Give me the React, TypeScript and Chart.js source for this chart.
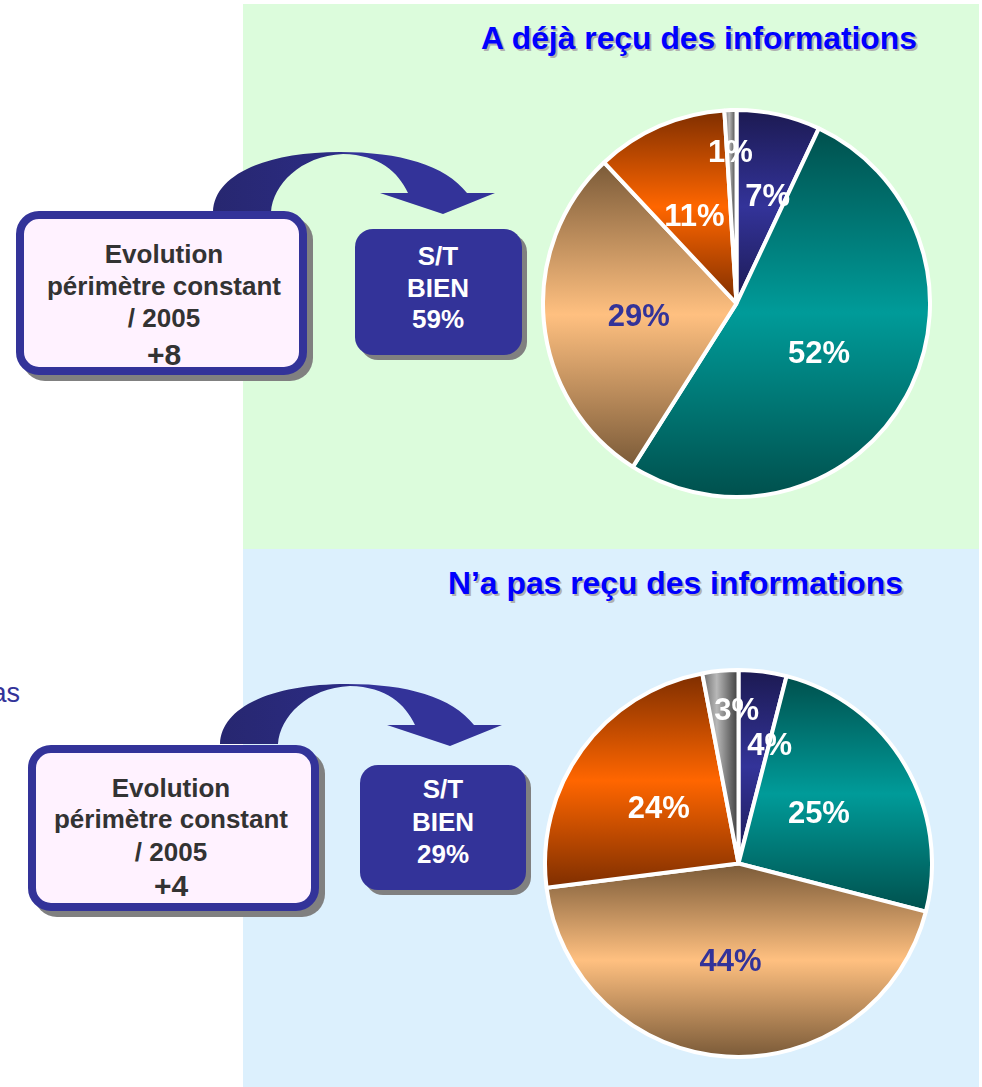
import React, { useEffect, useRef } from 'react';
import { Chart, registerables } from 'chart.js';

Chart.register(...registerables);

// ---------- data ----------
const categories = ['Très bien', 'Assez bien', 'Assez mal', 'Très mal', 'NSP'];
const recuValues = [7, 52, 29, 11, 1];
const pasRecuValues = [4, 25, 44, 24, 3];
const recuTitle = 'A déjà reçu des informations';
const pasRecuTitle = 'N’a pas reçu des informations';
const evolutionLines = ['Evolution', 'périmètre constant', '/ 2005'];
const recuEvolution = '+8';
const pasRecuEvolution = '+4';
const stLines = ['S/T', 'BIEN'];
const recuST = '59%';
const pasRecuST = '29%';
const cutText = 'as';

// ---------- styles ----------
const FONT = '"Liberation Sans", Arial, Helvetica, sans-serif';
const sliceEdge = ['#1c1a52', '#00504d', '#7a5a38', '#7e2e00', '#3c3c3c'];
const sliceMid = ['#333399', '#009b99', '#ffc080', '#ff6600', '#b8b8b8'];
const sliceDir = ['v', 'v', 'v', 'v', 'h'];
const labelColors = ['#ffffff', '#ffffff', '#333399', '#ffffff', '#ffffff'];
// [fraction of radius, angle offset in degrees]
const recuLabelPos = [[0.575, 3.6], [0.5, 2.6], [0.51, -2.2], [0.5, -2.4], [0.78, -0.5]];
const pasRecuLabelPos = [[0.63, 7.6], [0.49, -1.4], [0.51, 1], [0.5, -1.5], [0.79, 4.7]];

const layouts = [
  {
    key: 'recu',
    values: recuValues,
    labelPos: recuLabelPos,
    title: recuTitle,
    evo: recuEvolution,
    st: recuST,
    panel: { x: 243, y: 4, w: 736, h: 545, fill: '#dcfcdc' },
    titlePos: { x: 699, y: 49, len: 436 },
    pie: { left: 541, top: 108, size: 391 },
    arrow: { dx: 0, dy: 0 },
    pink: { x: 16, y: 211, w: 291, h: 164, tx: 164, base: [263, 295, 327, 365] },
    navy: { x: 355, y: 229, w: 167, h: 126, tx: 438, base: [265, 297, 328] },
  },
  {
    key: 'pasrecu',
    values: pasRecuValues,
    labelPos: pasRecuLabelPos,
    title: pasRecuTitle,
    evo: pasRecuEvolution,
    st: pasRecuST,
    panel: { x: 243, y: 549, w: 736, h: 538, fill: '#dcf0fd' },
    titlePos: { x: 675.5, y: 594, len: 455 },
    pie: { left: 543, top: 668, size: 391 },
    arrow: { dx: 7, dy: 532 },
    pink: { x: 28, y: 745, w: 291, h: 166, tx: 171, base: [797, 828, 861, 896] },
    navy: { x: 360, y: 765, w: 166, h: 125, tx: 443, base: [798, 831, 863] },
  },
];

function sectorBox(x: number, y: number, r: number, a0: number, a1: number) {
  const pts: number[][] = [
    [x, y],
    [x + r * Math.cos(a0), y + r * Math.sin(a0)],
    [x + r * Math.cos(a1), y + r * Math.sin(a1)],
  ];
  for (let k = -8; k <= 8; k++) {
    const a = (k * Math.PI) / 2;
    if (a > a0 && a < a1) pts.push([x + r * Math.cos(a), y + r * Math.sin(a)]);
  }
  let minX = Infinity, maxX = -Infinity, minY = Infinity, maxY = -Infinity;
  pts.forEach(([px, py]) => {
    minX = Math.min(minX, px); maxX = Math.max(maxX, px);
    minY = Math.min(minY, py); maxY = Math.max(maxY, py);
  });
  return { minX, maxX, minY, maxY };
}

const gradientPlugin = {
  id: 'sliceGradients',
  beforeDatasetsDraw(chart: any) {
    const ctx = chart.ctx;
    const meta = chart.getDatasetMeta(0);
    meta.data.forEach((arc: any, i: number) => {
      const p = arc.getProps(['x', 'y', 'startAngle', 'endAngle', 'outerRadius'], true);
      const b = sectorBox(p.x, p.y, p.outerRadius, p.startAngle, p.endAngle);
      let g;
      if (sliceDir[i] === 'h') {
        g = ctx.createLinearGradient(b.minX, 0, b.maxX, 0);
        g.addColorStop(0, '#6a6a6a');
        g.addColorStop(0.4, sliceMid[i]);
        g.addColorStop(1, sliceEdge[i]);
      } else {
        g = ctx.createLinearGradient(0, b.minY, 0, Math.max(b.maxY, b.minY + 1));
        g.addColorStop(0, sliceEdge[i]);
        g.addColorStop(0.5, sliceMid[i]);
        g.addColorStop(1, sliceEdge[i]);
      }
      arc.options = Object.assign({}, arc.options, { backgroundColor: g });
    });
  },
};

const labelPlugin = {
  id: 'pctLabels',
  afterDatasetsDraw(chart: any) {
    const ctx = chart.ctx;
    const meta = chart.getDatasetMeta(0);
    const vals = chart.data.datasets[0].data;
    const pos = chart.options.plugins.pctLabels.pos;
    ctx.save();
    ctx.font = `bold 31px ${FONT}`;
    ctx.textAlign = 'center';
    ctx.textBaseline = 'middle';
    meta.data.forEach((arc: any, i: number) => {
      const p = arc.getProps(['x', 'y', 'startAngle', 'endAngle', 'outerRadius'], true);
      const [f, off] = pos[i];
      const a = (p.startAngle + p.endAngle) / 2 + (off * Math.PI) / 180;
      const r = p.outerRadius * f;
      ctx.fillStyle = labelColors[i];
      ctx.fillText(`${vals[i]}%`, p.x + Math.cos(a) * r, p.y + Math.sin(a) * r + 1);
    });
    ctx.restore();
  },
};

function PieCanvas({ values, labelPos, size }: { values: number[]; labelPos: number[][]; size: number }) {
  const ref = useRef<HTMLCanvasElement>(null);
  useEffect(() => {
    if (!ref.current) return;
    const chart = new Chart(ref.current, {
      type: 'pie',
      data: {
        labels: categories,
        datasets: [
          {
            data: values,
            backgroundColor: sliceMid,
            borderColor: '#ffffff',
            borderWidth: 4,
          },
        ],
      },
      options: {
        animation: false,
        responsive: false,
        maintainAspectRatio: false,
        devicePixelRatio: 1,
        layout: { padding: 0 },
        plugins: {
          legend: { display: false },
          tooltip: { enabled: false },
          // @ts-ignore
          pctLabels: { pos: labelPos },
        },
      } as any,
      plugins: [gradientPlugin, labelPlugin],
    });
    return () => chart.destroy();
  }, [values, labelPos]);
  return <canvas ref={ref} width={size} height={size} style={{ width: size, height: size, display: 'block' }} />;
}

function Arrow({ dx, dy, id }: { dx: number; dy: number; id: string }) {
  return (
    <g transform={`translate(${dx},${dy})`}>
      <defs>
        <linearGradient id={id} gradientUnits="userSpaceOnUse" x1="213" y1="0" x2="495" y2="0">
          <stop offset="0" stopColor="#272770" />
          <stop offset="0.42" stopColor="#2b2b82" />
          <stop offset="0.5" stopColor="#333399" />
          <stop offset="1" stopColor="#333399" />
        </linearGradient>
      </defs>
      <path
        d="M213,212 C214,175 265,152 340,152 C400,152 445,165 467,193 L495,193 L443,214 L380,193 L408,193 C398,172 380,155 343,154 C300,156 273,185 271,212 Z"
        fill={`url(#${id})`}
      />
    </g>
  );
}

export default function App() {
  useEffect(() => {
    document.body.style.margin = '0';
  }, []);
  return (
    <div style={{ position: 'absolute', left: 0, top: 0, width: 982, height: 1087, overflow: 'hidden', background: '#ffffff' }}>
      <svg width={982} height={1087} style={{ position: 'absolute', left: 0, top: 0 }} fontFamily={FONT}>
        {layouts.map((L) => (
          <g key={L.key}>
            <rect x={L.panel.x} y={L.panel.y} width={L.panel.w} height={L.panel.h} fill={L.panel.fill} />
            <text x={L.titlePos.x + 2} y={L.titlePos.y + 2} textAnchor="middle" fontSize={31} fontWeight="bold" fill="#b0b0b0" textLength={L.titlePos.len} lengthAdjust="spacingAndGlyphs">{L.title}</text>
            <text x={L.titlePos.x} y={L.titlePos.y} textAnchor="middle" fontSize={31} fontWeight="bold" fill="#0000ff" textLength={L.titlePos.len} lengthAdjust="spacingAndGlyphs">{L.title}</text>
            <Arrow dx={L.arrow.dx} dy={L.arrow.dy} id={`arrowGrad-${L.key}`} />
            {/* pink box */}
            <rect x={L.pink.x + 6} y={L.pink.y + 6} width={L.pink.w} height={L.pink.h} rx={23} fill="#808080" />
            <rect x={L.pink.x + 4} y={L.pink.y + 4} width={L.pink.w - 8} height={L.pink.h - 8} rx={19} fill="#fff2ff" stroke="#333399" strokeWidth={8} />
            {evolutionLines.map((t, i) => (
              <text key={t} x={L.pink.tx} y={L.pink.base[i]} textAnchor="middle" fontSize={26} fontWeight="bold" fill="#333333">{t}</text>
            ))}
            <text x={L.pink.tx} y={L.pink.base[3]} textAnchor="middle" fontSize={30} fontWeight="bold" fill="#333333">{L.evo}</text>
            {/* navy box */}
            <rect x={L.navy.x + 5} y={L.navy.y + 5} width={L.navy.w} height={L.navy.h} rx={18} fill="#808080" />
            <rect x={L.navy.x} y={L.navy.y} width={L.navy.w} height={L.navy.h} rx={18} fill="#333399" />
            {stLines.map((t, i) => (
              <text key={t} x={L.navy.tx} y={L.navy.base[i]} textAnchor="middle" fontSize={26} fontWeight="bold" fill="#ffffff">{t}</text>
            ))}
            <text x={L.navy.tx} y={L.navy.base[2]} textAnchor="middle" fontSize={26} fontWeight="bold" fill="#ffffff">{L.st}</text>
          </g>
        ))}
        <text x={20} y={702} textAnchor="end" fontSize={27} fill="#333399">{cutText}</text>
      </svg>
      {layouts.map((L) => (
        <div key={L.key} style={{ position: 'absolute', left: L.pie.left, top: L.pie.top, width: L.pie.size, height: L.pie.size }}>
          <PieCanvas values={L.values} labelPos={L.labelPos} size={L.pie.size} />
        </div>
      ))}
    </div>
  );
}
